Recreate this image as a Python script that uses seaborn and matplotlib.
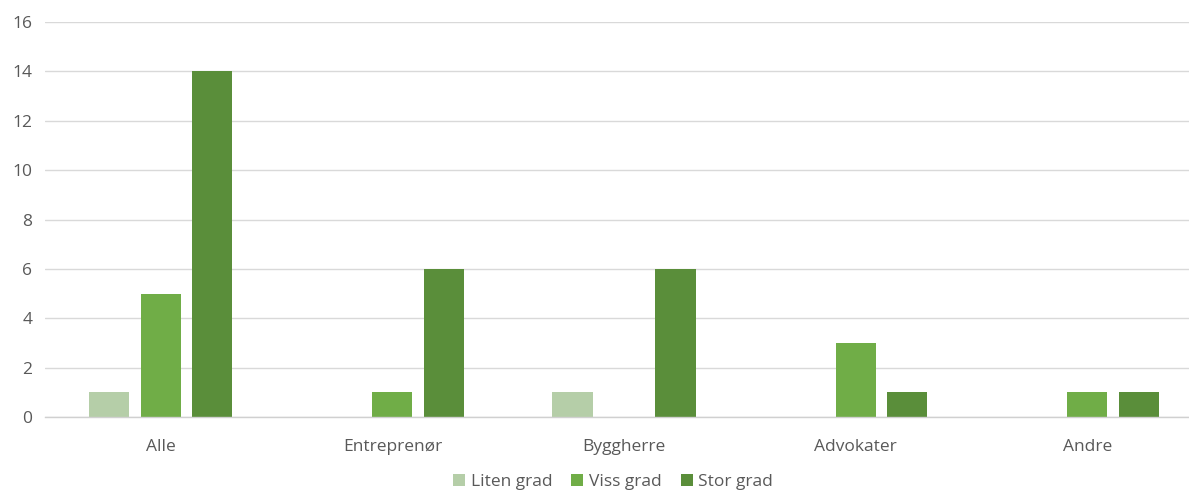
import matplotlib
matplotlib.use("Agg")
import matplotlib.pyplot as plt
import seaborn as sns
import pandas as pd

categories = ["Alle", "Entreprenør", "Byggherre", "Advokater", "Andre"]
series_names = ["Liten grad", "Viss grad", "Stor grad"]
liten_grad = [1, 0, 1, 0, 0]
viss_grad = [5, 1, 0, 3, 1]
stor_grad = [14, 6, 6, 1, 1]
y_ticks = [0, 2, 4, 6, 8, 10, 12, 14, 16]

colors = ["#B5CEA8", "#70AD47", "#5A8E3A"]

rows = []
for name, vals in zip(series_names, [liten_grad, viss_grad, stor_grad]):
    for cat, v in zip(categories, vals):
        rows.append({"Kategori": cat, "Grad": name, "Antall": v})
df = pd.DataFrame(rows)

sns.set_theme(style="white")
plt.rcParams["font.family"] = ["Open Sans", "DejaVu Sans"]

W, H = 1189, 492
fig = plt.figure(figsize=(W / 100, H / 100), dpi=100)
left, right, bottom, top = 45, 1203, 75, 22
ax = fig.add_axes([left / W, bottom / H, (right - left) / W, (H - bottom - top) / H])

sns.barplot(data=df, x="Kategori", y="Antall", hue="Grad", order=categories,
            hue_order=series_names, palette=colors, width=0.667, gap=0.22,
            linewidth=0, saturation=1, errorbar=None, ax=ax, legend=True)

ax.set_xlim(-0.5, len(categories) - 0.5)
ax.set_ylim(0, 16)
ax.set_yticks(y_ticks)
ax.yaxis.grid(True, color="#D9D9D9", linewidth=1)
ax.set_axisbelow(True)
for s in ["top", "right", "left"]:
    ax.spines[s].set_visible(False)
ax.spines["bottom"].set_color("#D0D0D0")
ax.spines["bottom"].set_linewidth(1)
ax.tick_params(axis="both", length=0, colors="#595959", labelsize=12.5)
ax.tick_params(axis="x", pad=16)
ax.tick_params(axis="y", pad=9)
ax.set_xlabel("")
ax.set_ylabel("")

handles, labels = ax.get_legend_handles_labels()
ax.get_legend().remove()
fig.legend(handles, labels, loc="center", bbox_to_anchor=(613 / W, 1 - 482 / H),
           ncol=3, frameon=False, fontsize=12.5, handlelength=0.7, handleheight=0.7,
           handletextpad=0.3, columnspacing=1.1, labelcolor="#595959")

fig.savefig("out.png", dpi=100)
